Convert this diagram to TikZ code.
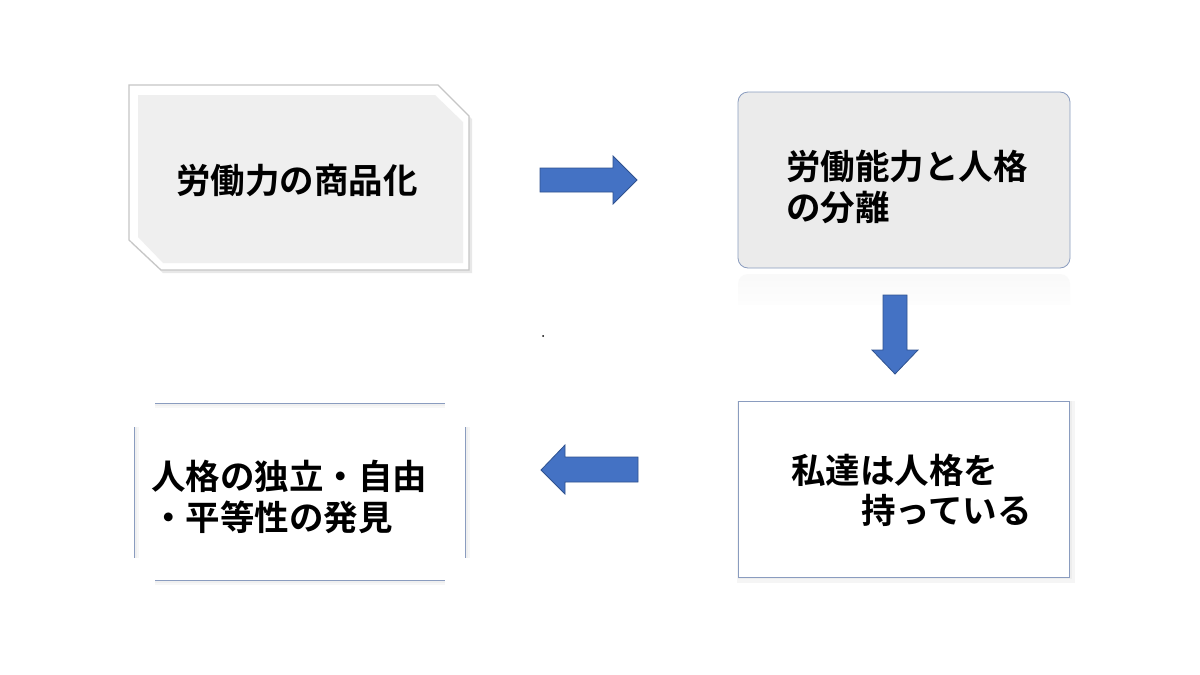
\documentclass[tikz,border=0pt]{standalone}
\usepackage{fontspec}
\newfontfamily\cjk{Noto Sans CJK JP}[BoldFont={Noto Sans CJK JP Bold}]
\definecolor{arrowfill}{HTML}{4472C4}
\definecolor{arrowline}{HTML}{2F528F}
\definecolor{boxline}{HTML}{8A9CBF}
\definecolor{lightfill}{HTML}{EFEFEF}
\definecolor{lightfill2}{HTML}{EBEBEB}
\begin{document}
\begin{tikzpicture}[x=1pt,y=-1pt,
  blockarrow/.style={fill=arrowfill,draw=arrowline,line width=0.8pt,line join=miter},
  label/.style={font=\cjk\bfseries\fontsize{34.5}{41}\selectfont,text=black,inner sep=0pt,align=left},
  edgeline/.style={draw=boxline,line width=1pt}]
\useasboundingbox (0,0) rectangle (1200,675);
\fill[white] (0,0) rectangle (1200,675);

% Box 1: snipped corners
\fill[gray!18] (131,88) -- (440,88) -- (472,119) -- (472,273) -- (163,273) -- (131,243) -- cycle;
\draw[fill=white,draw=gray!45,line width=1.2pt] (129,85) -- (438,85) -- (469,116) -- (469,270) -- (161,270) -- (129,240) -- cycle;
\fill[lightfill] (138,95) -- (435,95) -- (463,122) -- (463,263) -- (163,263) -- (138,237) -- cycle;
\node[label,anchor=center] (t1) at (297,180) {労働力の商品化};

% Box 2: rounded rectangle with faint reflection
\shade[top color=gray!5,bottom color=white,rounded corners=10pt] (738,274) rectangle (1070,318);
\fill[white] (736,305) rectangle (1072,320);
\draw[fill=lightfill2,draw=boxline,line width=0.8pt,rounded corners=10pt] (738,92) rectangle (1070,268);
\node[label,anchor=west] (t2) at (786,187) {労働能力と人格\\の分離};

% Box 3: separated edges
\foreach \o/\c in {4/gray!6,2/gray!12}{
  \draw[\c,line width=2pt] (155,403+\o) -- (445,403+\o);
  \draw[\c,line width=2pt] (155,580+\o) -- (445,580+\o);
  \draw[\c,line width=2pt] (134+\o,427) -- (134+\o,558);
  \draw[\c,line width=2pt] (465+\o,427) -- (465+\o,558);
}
\draw[edgeline] (155,403) -- (445,403);
\draw[edgeline] (155,580) -- (445,580);
\draw[edgeline] (134,427) -- (134,558);
\draw[edgeline] (465,427) -- (465,558);
\node[label,anchor=west] (t3) at (151,497) {人格の独立・自由\\・平等性の発見};

% Box 4: rectangle with soft shadow
\draw[gray!8,line width=6pt] (740,404) rectangle (1072,580);
\draw[gray!14,line width=2pt] (739,402) rectangle (1071,578);
\draw[fill=white,draw=boxline,line width=0.9pt] (738,401) rectangle (1069,577);
\node[label,anchor=west] (t4a) at (791,470) {私達は人格を};
\node[label,anchor=west] (t4b) at (861,510) {持っている};

% Arrows
\draw[blockarrow] (540,168) -- (613,168) -- (613,156) -- (637,180) -- (613,204) -- (613,192) -- (540,192) -- cycle;
\draw[blockarrow] (883,295) -- (907,295) -- (907,350) -- (918,350) -- (895,374) -- (872,350) -- (883,350) -- cycle;
\draw[blockarrow] (638,457) -- (565,457) -- (565,445) -- (541,470) -- (565,494) -- (565,482) -- (638,482) -- cycle;

% tiny dot
\fill[black] (543,336) circle (1pt);
\end{tikzpicture}
\end{document}
